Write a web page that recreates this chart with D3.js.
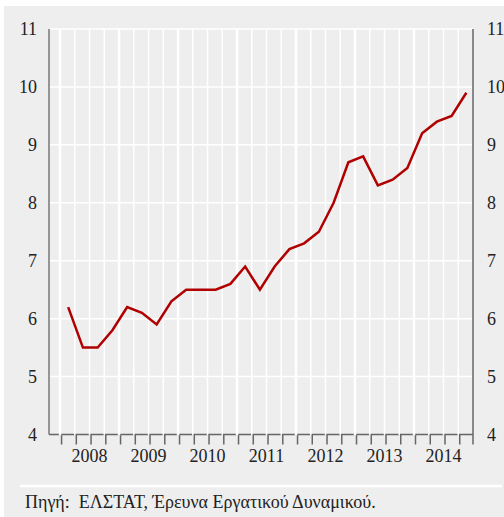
<!DOCTYPE html>
<html>
<head>
<meta charset="utf-8">
<script src="https://cdn.jsdelivr.net/npm/d3@7"></script>
<style>
  body { margin: 0; background: #fff; }
</style>
</head>
<body>
<div id="chart"></div>
<script>
(function () {

    // quarterly values, 2008 Q1 .. 2014 Q4
    var years = [2008, 2009, 2010, 2011, 2012, 2013, 2014];
    var values = [
        6.2, 5.5, 5.5, 5.8,
        6.2, 6.1, 5.9, 6.3,
        6.5, 6.5, 6.5, 6.6,
        6.9, 6.5, 6.9, 7.2,
        7.3, 7.5, 8.0, 8.7,
        8.8, 8.3, 8.4, 8.6,
        9.2, 9.4, 9.5, 9.9
    ];
    var yTicks = [4, 5, 6, 7, 8, 9, 10, 11];
    var source = "Πηγή:\u00a0 ΕΛΣΤΑΤ, Έρευνα Εργατικού Δυναμικού.";

    var width = 504, height = 517,
        font = "'Liberation Serif'";

    var svg = d3.select("#chart").append("svg")
        .attr("width", width)
        .attr("height", height);

    svg.append("rect")
        .attr("x", 4).attr("y", 6)
        .attr("width", width - 4).attr("height", height - 6)
        .style("fill", "#eeeeee");

    var nq = years.length * 4;
    var x = d3.scaleLinear().domain([-0.75, nq]).range([49, 473]),
        y = d3.scaleLinear().domain([4, 11]).range([434.5, 29]);

    // bottom axis line + quarter ticks
    svg.append("line")
        .attr("x1", x(-0.75)).attr("x2", x(nq))
        .attr("y1", y(4)).attr("y2", y(4))
        .style("stroke", "#666").style("stroke-width", 1.5);

    svg.append("g").selectAll("line")
        .data(d3.range(0, nq))
        .enter().append("line")
        .attr("x1", function (d) { return x(d) + 1.5; })
        .attr("x2", function (d) { return x(d) + 1.5; })
        .attr("y1", y(4)).attr("y2", y(4) + 10)
        .style("stroke", "#666").style("stroke-width", 1.5);

    // white grid
    var grid = svg.append("g");
    grid.selectAll("line.h")
        .data(yTicks.slice(1))
        .enter().append("line")
        .attr("class", "h")
        .attr("x1", x(-0.75)).attr("x2", x(nq))
        .attr("y1", function (d) { return y(d); })
        .attr("y2", function (d) { return y(d); })
        .style("stroke", "#fff").style("stroke-width", 1.5);

    grid.selectAll("line.v")
        .data(d3.range(0, nq))
        .enter().append("line")
        .attr("class", "v")
        .attr("x1", function (d) { return x(d); })
        .attr("x2", function (d) { return x(d); })
        .attr("y1", y(11)).attr("y2", y(4) + 1)
        .style("stroke", "#fff")
        .style("stroke-width", function (d) { return d % 4 ? 1.5 : 2.5; });

    // side axes
    svg.append("line")
        .attr("x1", x(-0.75)).attr("x2", x(-0.75))
        .attr("y1", y(11)).attr("y2", y(4))
        .style("stroke", "#777").style("stroke-width", 1.5);
    svg.append("line")
        .attr("x1", x(nq)).attr("x2", x(nq))
        .attr("y1", y(11)).attr("y2", y(4) + 10)
        .style("stroke", "#666").style("stroke-width", 1.5);

    function label(sel, size) {
        return sel
            .style("font-family", font)
            .style("font-size", size + "px")
            .style("fill", "#222");
    }

    svg.append("g").selectAll("text")
        .data(yTicks)
        .enter().append("text")
        .attr("x", 37)
        .attr("y", function (d) { return y(d); })
        .attr("dy", "0.35em")
        .style("text-anchor", "end")
        .call(label, 18)
        .text(function (d) { return d; });

    svg.append("g").selectAll("text")
        .data(yTicks)
        .enter().append("text")
        .attr("x", 487)
        .attr("y", function (d) { return y(d); })
        .attr("dy", "0.35em")
        .call(label, 18)
        .text(function (d) { return d; });

    svg.append("g").selectAll("text")
        .data(years)
        .enter().append("text")
        .attr("x", function (d, i) { return x(i * 4 + 2); })
        .attr("y", 462)
        .style("text-anchor", "middle")
        .call(label, 18)
        .text(function (d) { return d; });

    // the series
    var line = d3.line()
        .x(function (d, i) { return x(i + 0.55); })
        .y(function (d) { return y(d); });

    svg.append("path")
        .datum(values)
        .attr("d", line)
        .style("fill", "none")
        .style("stroke", "#b00000")
        .style("stroke-width", 2.5);

    // source note
    svg.append("line")
        .attr("x1", 20).attr("x2", 502)
        .attr("y1", 486).attr("y2", 486)
        .style("stroke", "#fff").style("stroke-width", 2.5);

    svg.append("text")
        .attr("x", 25).attr("y", 508)
        .call(label, 18)
        .text(source);
}());
</script>
</body>
</html>
